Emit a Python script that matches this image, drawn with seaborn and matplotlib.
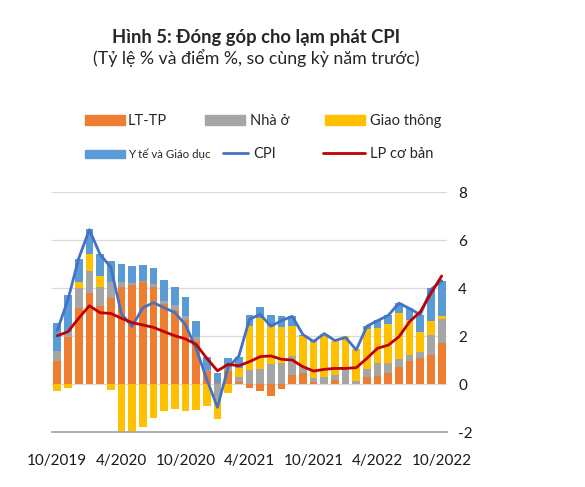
"""
Contribution to CPI inflation (Vietnam), 10/2019 - 10/2022.
Stacked contribution bars (LT-TP, housing, transport, health & education)
with headline CPI and core inflation lines.
"""

import numpy as np
import pandas as pd
import matplotlib
matplotlib.use('Agg')
import matplotlib.pyplot as plt
import seaborn as sns
from matplotlib.patches import Patch
from matplotlib.lines import Line2D

# ---- data ----
months = pd.period_range('2019-10', '2022-10', freq='M').strftime('%m/%Y')
tick_labels = ['10/2019', '4/2020', '10/2020', '4/2021', '10/2021', '4/2022', '10/2022']

lt_tp = [0.95, 1.97, 3.18, 3.78, 3.24, 3.58, 4.03, 4.12, 4.26, 4.06, 3.33, 3.08, 2.67,
         1.81, 0.55, 0.05, 0.55, 0.07, -0.18, -0.28, -0.50, -0.22, 0.38, 0.44, 0.10,
         0.00, 0.17, -0.02, -0.02, 0.31, 0.35, 0.44, 0.72, 0.96, 1.10, 1.21, 1.69]
nha_o = [0.43, 0.21, 0.80, 0.94, 0.82, 0.68, 0.23, 0.10, 0.05, 0.09, 0.14, 0.21, 0.18,
         0.16, 0.05, -0.65, 0.15, 0.21, 0.58, 0.61, 0.82, 0.89, 0.79, 0.31, 0.16,
         0.28, 0.20, 0.63, 0.12, 0.31, 0.51, 0.42, 0.31, 0.25, 0.25, 0.83, 1.00]
giao_thong = [-0.28, -0.18, 0.28, 0.70, 0.45, -0.25, -2.06, -2.52, -1.81, -1.43, -1.14,
              -1.04, -1.14, -1.08, -0.93, -0.80, -0.39, 0.37, 1.84, 2.13, 1.60, 1.50,
              1.26, 1.25, 1.50, 1.80, 1.42, 1.35, 1.34, 1.66, 1.49, 1.63, 1.91, 1.46,
              0.83, 0.60, 0.16]
y_te = [1.18, 1.53, 0.96, 1.02, 0.89, 0.86, 0.73, 0.70, 0.65, 0.67, 0.86, 0.74, 0.76,
        0.66, 0.53, 0.42, 0.40, 0.49, 0.46, 0.45, 0.46, 0.46, 0.42, 0.05, 0.02, 0.02,
        0.02, 0.00, 0.00, 0.14, 0.32, 0.39, 0.45, 0.48, 0.70, 1.35, 1.46]
cpi = [2.24, 3.52, 5.23, 6.43, 5.40, 4.87, 2.93, 2.40, 3.17, 3.39, 3.18, 2.98, 2.47,
       1.48, 0.19, -0.97, 0.70, 1.16, 2.70, 2.90, 2.41, 2.64, 2.82, 2.06, 1.77, 2.10,
       1.81, 1.94, 1.42, 2.41, 2.64, 2.86, 3.37, 3.14, 2.89, 3.94, 4.30]
lp_co_ban = [2.01, 2.18, 2.74, 3.26, 2.97, 2.94, 2.74, 2.56, 2.46, 2.36, 2.18, 2.01, 1.88,
             1.65, 1.07, 0.55, 0.82, 0.76, 0.93, 1.14, 1.17, 1.03, 1.00, 0.72, 0.54,
             0.61, 0.65, 0.65, 0.68, 1.07, 1.49, 1.62, 1.97, 2.60, 3.01, 3.78, 4.50]

C_ORANGE = '#ED7D31'
C_GREY = '#A5A5A5'
C_YELLOW = '#FFC000'
C_BLUE = '#5B9BD5'
C_CPI = '#4472C4'
C_LP = '#C00000'

W, H = 585, 487

sns.set_theme(style='white')
plt.rcParams['font.family'] = ['Lato', 'DejaVu Sans']
plt.rcParams['axes.unicode_minus'] = False


def main():
    fig = plt.figure(figsize=(W / 100, H / 100), dpi=100)
    ax = fig.add_axes([52 / W, 1 - 432 / H, 395 / W, 240 / H])

    df = pd.DataFrame({'month': months, 'cpi': cpi, 'lp': lp_co_ban})
    df['x'] = np.arange(len(df))

    # stacked bars: positives stack up from 0, negatives stack down from 0
    pos = np.zeros(len(df))
    neg = np.zeros(len(df))
    for vals, color in [(lt_tp, C_ORANGE), (nha_o, C_GREY),
                        (giao_thong, C_YELLOW), (y_te, C_BLUE)]:
        v = np.array(vals)
        bottom = np.where(v >= 0, pos, neg)
        ax.bar(df['x'], v, bottom=bottom, width=0.72, color=color,
               linewidth=0, zorder=2)
        pos += np.clip(v, 0, None)
        neg += np.clip(v, None, 0)

    sns.lineplot(data=df, x='x', y='cpi', ax=ax, color=C_CPI, lw=2.0,
                 zorder=3, solid_joinstyle='round')
    sns.lineplot(data=df, x='x', y='lp', ax=ax, color=C_LP, lw=2.0,
                 zorder=4, solid_joinstyle='round')

    ax.set_xlim(-0.5, len(df) - 0.5)
    ax.set_ylim(-2, 8)
    for v in range(0, 9, 2):
        ax.axhline(v, color='#D9D9D9', lw=0.9, zorder=1)

    for side in ['top', 'left', 'right']:
        ax.spines[side].set_visible(False)
    ax.spines['bottom'].set_color('#A6A6A6')
    ax.spines['bottom'].set_linewidth(1.3)

    ax.yaxis.tick_right()
    ax.set_yticks(range(-2, 9, 2))
    ax.tick_params(axis='y', length=0, pad=8, labelsize=11, labelcolor='#1a1a1a')

    # ticks between categories, labels under the bar
    ax.set_xticks(np.arange(-0.5, len(df) - 1, 6))
    ax.set_xticklabels([])
    ax.set_xticks(np.arange(0, len(df), 6), minor=True)
    ax.set_xticklabels(tick_labels, minor=True)
    ax.tick_params(axis='x', which='major', length=5, width=1.3,
                   color='#A6A6A6', direction='out')
    ax.tick_params(axis='x', which='minor', length=0, pad=16,
                   labelsize=11, labelcolor='#1a1a1a')
    ax.set_xlabel('')
    ax.set_ylabel('')

    # titles
    fig.text(256 / W, 1 - 37 / H, 'Hình 5: Đóng góp cho lạm phát CPI',
             ha='center', va='center', fontsize=13.2, fontweight='bold')
    fig.text(256 / W, 1 - 58 / H, '(Tỷ lệ % và điểm %, so cùng kỳ năm trước)',
             ha='center', va='center', fontsize=12.8)

    # legend entries placed one by one, like the original layout
    entries = [
        (Patch(color=C_ORANGE), 'LT-TP', 85, 121, 10.5, 40, 3),
        (Patch(color=C_GREY), 'Nhà ở', 205, 121, 10.5, 40, 5),
        (Patch(color=C_YELLOW), 'Giao thông', 325, 121, 10.5, 40, 5),
        (Patch(color=C_BLUE), 'Y tế và Giáo dục', 85, 154, 8.3, 40, 3),
        (Line2D([], [], color=C_CPI, lw=2), 'CPI', 223, 154, 10.5, 25, 5),
        (Line2D([], [], color=C_LP, lw=2), 'LP cơ bản', 323, 154, 10.5, 42, 5),
    ]
    for handle, label, px, py, fs, hl, pad in entries:
        em = fs * 100 / 72
        fig.legend(handles=[handle], labels=[label], loc='center left',
                   bbox_to_anchor=(px / W, 1 - py / H), frameon=False,
                   borderpad=0, borderaxespad=0, fontsize=fs,
                   handlelength=hl / em, handletextpad=pad / em,
                   handleheight=0.65)

    fig.savefig('out.png', dpi=100)
    plt.close(fig)


if __name__ == "__main__":
    main()
